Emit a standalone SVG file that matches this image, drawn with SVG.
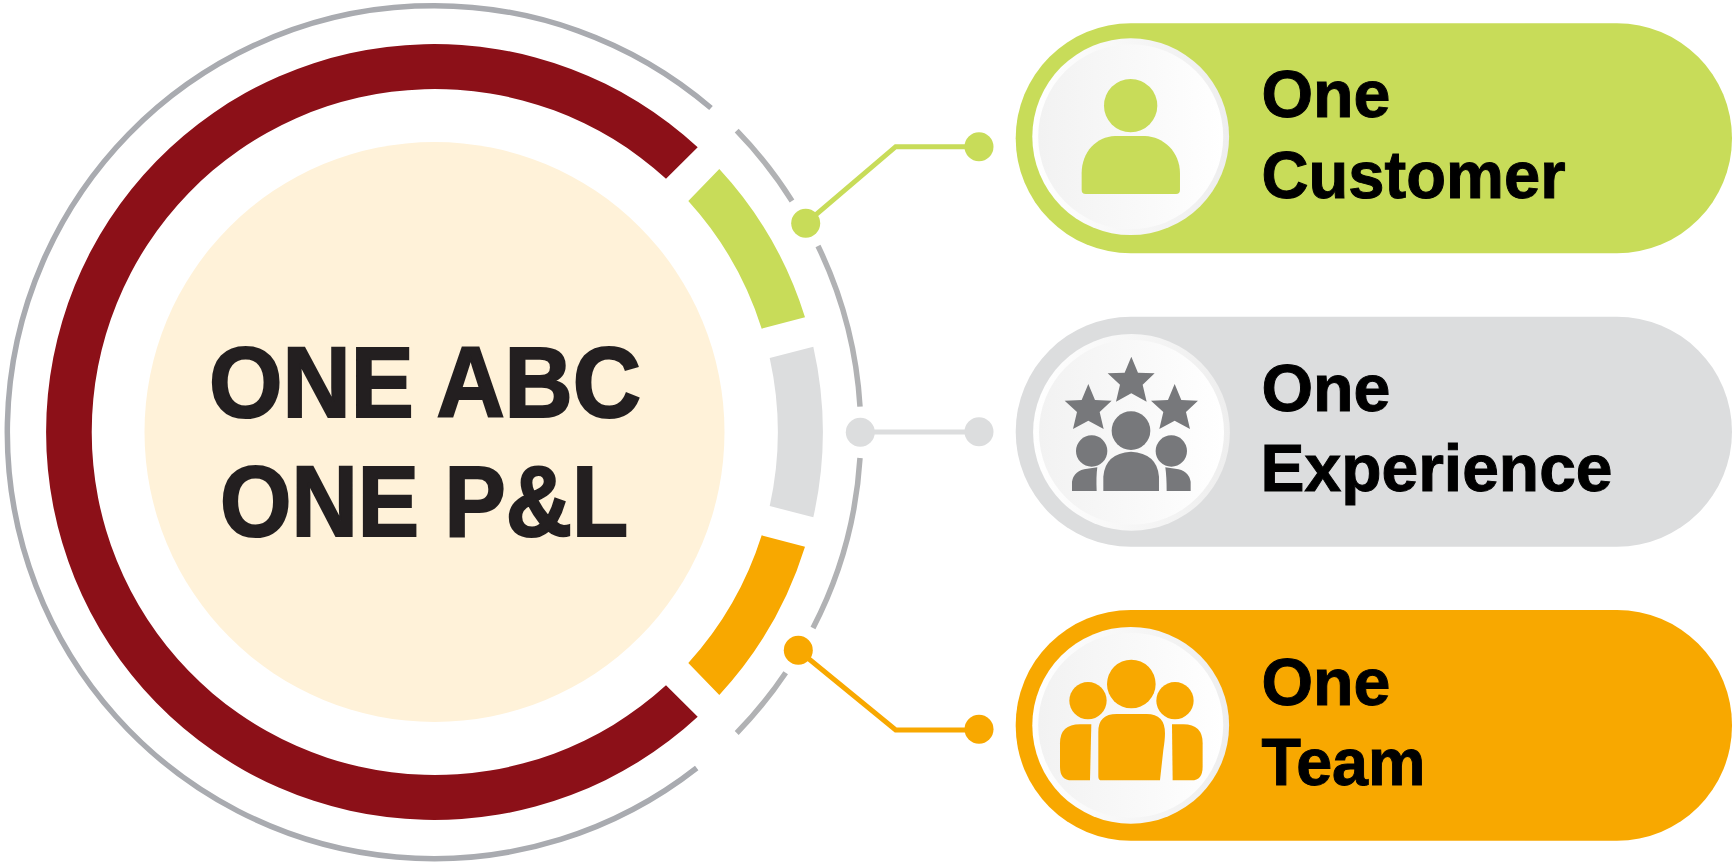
<svg xmlns="http://www.w3.org/2000/svg" xmlns:xlink="http://www.w3.org/1999/xlink" width="1735" height="865" viewBox="0 0 1735 865">
<style>
.ring{fill:none;stroke:#b1b2b4;stroke-width:5.5}
.main{font-family:"Liberation Sans",Arial,sans-serif;font-weight:700;font-size:100px;fill:#231f20;stroke:#231f20;stroke-width:2.2}
.lab{font-family:"Liberation Sans",Arial,sans-serif;font-weight:700;font-size:67px;fill:#000;stroke:#000;stroke-width:1}
.conn{fill:none;stroke-width:5}
</style>
<defs>
<linearGradient id="inner" x1="0" x2="1" y1="0" y2="0"><stop offset="0" stop-color="#f2f2f2"/><stop offset="1" stop-color="#fff"/></linearGradient>
<linearGradient id="outer" x1="0" x2="1" y1="0" y2="0"><stop offset="0" stop-color="#fff"/><stop offset="1" stop-color="#eeeeee"/></linearGradient>
<polygon id="star" points="394,140 414,188 464,190 428,224 440,275 394,250 348,275 360,224 323,190 374,188"/>
</defs>
<rect width="1735" height="865" fill="#fff"/>
<g id="hub">
<circle cx="434.5" cy="432" r="290" fill="#fff2d9"/>
<path id="red-arc" fill="#8c1018" d="M697.7,147.3A388,388 0 1 0 697.7,716.7L666,685.3A343,343 0 1 1 666,178.7Z"/>
<path id="green-arc" fill="#c8dc59" d="M719.3,169A388,388 0 0 1 805,317.3L761.7,328.7A343,343 0 0 0 688.3,201Z"/>
<path id="grey-arc" fill="#dcddde" d="M813.3,346.7A388,388 0 0 1 813.3,517.3L769.7,506A343,343 0 0 0 769.7,358Z"/>
<path id="orange-arc" fill="#f8a800" d="M805,546.7A388,388 0 0 1 719.3,695L688.3,663A343,343 0 0 0 761.7,535.3Z"/>
<path class="ring" style="stroke:#a9abb0" d="M711,108A426.5,426.5 0 1 0 696.7,768"/>
<path class="ring" d="M736.7,130.7A426.5,426.5 0 0 1 792,201"/>
<path class="ring" d="M818,246A426.5,426.5 0 0 1 860,406.7"/>
<path class="ring" d="M860,458A426.5,426.5 0 0 1 813,628"/>
<path class="ring" d="M785.7,672.7A426.5,426.5 0 0 1 736.7,733"/>
<text class="main" x="209" y="416.5" textLength="432" lengthAdjust="spacingAndGlyphs">ONE ABC</text>
<text class="main" x="220" y="535.5" textLength="408" lengthAdjust="spacingAndGlyphs">ONE P&amp;L</text>
</g>
<g id="connectors">
<path class="conn" stroke="#c8dc59" d="M805.7,223.3L895.7,146.7H979"/>
<path class="conn" stroke="#dcddde" d="M860.3,432H979"/>
<path class="conn" stroke="#f8a800" d="M798.3,650.3L895.7,730H979"/>
<circle cx="805.7" cy="223.3" r="14.5" fill="#c8dc59"/>
<circle cx="979" cy="146.7" r="14.5" fill="#c8dc59"/>
<circle cx="860.3" cy="432.3" r="14.5" fill="#dcddde"/>
<circle cx="979" cy="431.7" r="14.5" fill="#dcddde"/>
<circle cx="798.3" cy="650.3" r="14.5" fill="#f8a800"/>
<circle cx="979" cy="729.3" r="14.5" fill="#f8a800"/>
</g>
<g id="one-customer">
<rect x="1015.7" y="23.3" width="716.3" height="230" rx="115" fill="#c8dc59"/>
<circle cx="1130.7" cy="136.7" r="98.4" fill="url(#outer)"/>
<circle cx="1130.7" cy="136.7" r="92.5" fill="url(#inner)"/>
<g fill="#c8dc59" transform="translate(1000 10) scale(.3333)">
<circle cx="392" cy="287" r="80"/>
<path d="M245,490C245,425 290,380 345,378H435C490,380 540,425 540,490V540Q540,552 528,552H257Q245,552 245,540Z"/>
</g>
<text class="lab" x="1261.5" y="117.2" textLength="129" lengthAdjust="spacingAndGlyphs">One</text>
<text class="lab" x="1261.5" y="197.8" textLength="304" lengthAdjust="spacingAndGlyphs">Customer</text>
</g>
<g id="one-experience">
<rect x="1015.7" y="316.7" width="716.3" height="230" rx="115" fill="#dcddde"/>
<circle cx="1131.5" cy="432.3" r="98.4" fill="url(#outer)"/>
<circle cx="1131.5" cy="432.3" r="92.5" fill="url(#inner)"/>
<g fill="#77787b" transform="translate(1000 310) scale(.3333)">
<use xlink:href="#star" href="#star"/>
<use xlink:href="#star" href="#star" transform="translate(-129 82)"/>
<use xlink:href="#star" href="#star" transform="translate(130 82)"/>
<circle cx="393" cy="362" r="58"/>
<circle cx="275" cy="423" r="47"/>
<circle cx="514" cy="423" r="47"/>
<path d="M310,543V500Q315,430 393,425Q472,430 477,500V543Z"/>
<path d="M216,543V515Q222,480 262,476L292,472Q288,500 290,543Z"/>
<path d="M572,543V515Q566,480 526,476L496,472Q500,500 500,543Z"/>
</g>
<text class="lab" x="1261.5" y="411.2" textLength="129" lengthAdjust="spacingAndGlyphs">One</text>
<text class="lab" x="1260.5" y="491.2" textLength="352" lengthAdjust="spacingAndGlyphs">Experience</text>
</g>
<g id="one-team">
<rect x="1015.7" y="610" width="716.3" height="230.7" rx="115" fill="#f8a800"/>
<circle cx="1130.7" cy="725.3" r="98.4" fill="url(#outer)"/>
<circle cx="1130.7" cy="725.3" r="92.5" fill="url(#inner)"/>
<g fill="#f8a800" transform="translate(1000 600) scale(.3333)">
<circle cx="394" cy="252" r="73"/>
<circle cx="264" cy="302" r="56"/>
<circle cx="525" cy="302" r="56"/>
<path d="M305,541Q295,541 295,530V395Q295,342 350,342H440Q495,342 495,400Q495,420 490,450L480,541Z"/>
<path d="M274,373L270,541H215Q180,541 180,500V430Q180,373 240,373Z"/>
<path d="M516,373L518,541H575Q608,541 608,500V430Q608,373 550,373Z"/>
</g>
<text class="lab" x="1261.5" y="705.2" textLength="129" lengthAdjust="spacingAndGlyphs">One</text>
<text class="lab" x="1261.5" y="785.2" textLength="164" lengthAdjust="spacingAndGlyphs">Team</text>
</g>
</svg>
